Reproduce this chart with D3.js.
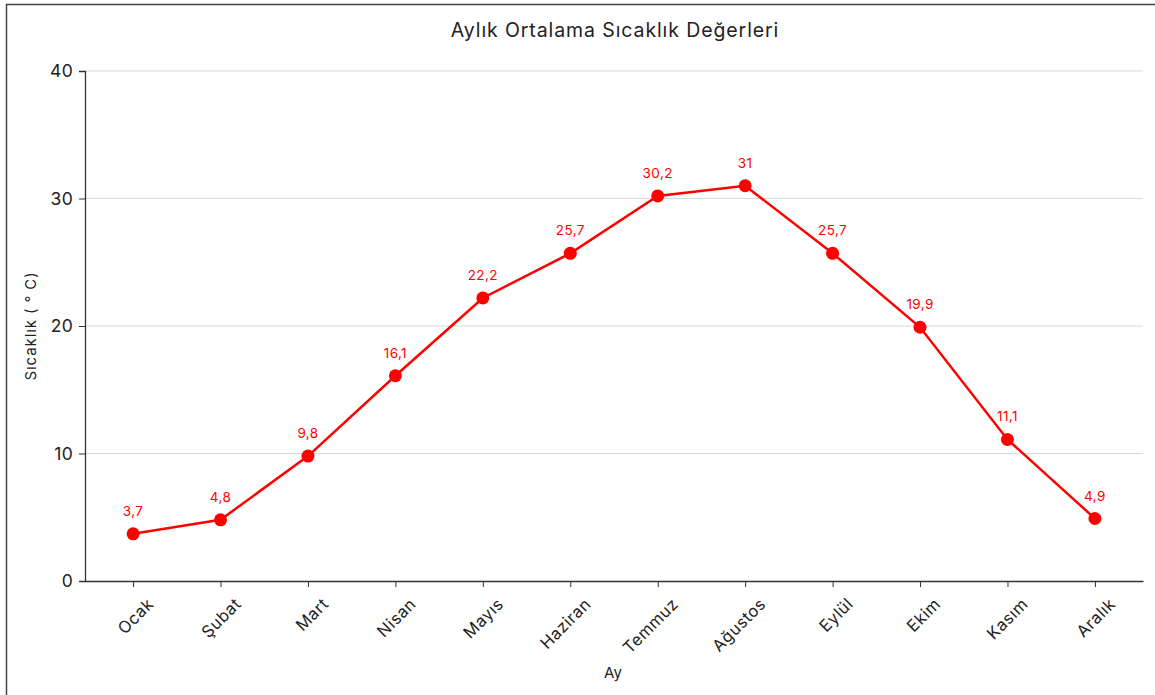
<!DOCTYPE html>
<html>
<head>
<meta charset="utf-8">
<script src="https://cdn.jsdelivr.net/npm/d3@7"></script>
<style>
  html, body { margin: 0; padding: 0; background: #fff; }
  svg { display: block; }
  svg text { font-family: Inter, "Open Sans", sans-serif; }
</style>
</head>
<body>
<svg id="chart" width="1155" height="695"></svg>
<script>
// Aylık ortalama sıcaklık çizgi grafiği
const months = ["Ocak", "Şubat", "Mart", "Nisan", "Mayıs", "Haziran",
  "Temmuz", "Ağustos", "Eylül", "Ekim", "Kasım", "Aralık"];
const temps = [3.7, 4.8, 9.8, 16.1, 22.2, 25.7, 30.2, 31, 25.7, 19.9, 11.1, 4.9];
const yTicks = [0, 10, 20, 30, 40];

const W = 1155, H = 695;
const margin = { left: 85, right: 12, top: 71, bottom: 114 };
const red = "#ff0000";

const svg = d3.select("#chart");
const fmt = (v) => String(v).replace(".", ",");

// outer frame
svg.append("rect")
  .attr("x", 6.5).attr("y", 4.5)
  .attr("width", W + 20).attr("height", H + 20)
  .attr("fill", "none").attr("stroke", "#444").attr("stroke-width", 1.5);

const x = d3.scalePoint()
  .domain(months)
  .range([margin.left, W - margin.right])
  .padding(0.55);

const y = d3.scaleLinear()
  .domain([0, 40])
  .range([H - margin.bottom, margin.top]);

// gridlines
svg.append("g")
  .selectAll("line")
  .data(yTicks.filter((t) => t > 0))
  .join("line")
  .attr("x1", margin.left).attr("x2", W - margin.right)
  .attr("y1", (d) => y(d)).attr("y2", (d) => y(d))
  .attr("stroke", "#d9d9d9").attr("stroke-width", 1);

// y axis
const gy = svg.append("g")
  .attr("transform", `translate(${margin.left},0)`)
  .call(d3.axisLeft(y).tickValues(yTicks).tickSize(6).tickPadding(6));
gy.select(".domain").attr("stroke", "#333").attr("stroke-width", 1.3);
gy.selectAll(".tick line").attr("stroke", "#333");
gy.selectAll(".tick text")
  .attr("font-size", 17.5).attr("fill", "#222").attr("letter-spacing", 0.3);

// x axis
const gx = svg.append("g")
  .attr("transform", `translate(0,${H - margin.bottom})`)
  .call(d3.axisBottom(x).tickSize(6).tickPadding(4).tickSizeOuter(0));
gx.select(".domain").attr("stroke", "#333").attr("stroke-width", 1.3);
gx.selectAll(".tick line").attr("stroke", "#333");
gx.selectAll(".tick text")
  .attr("font-size", 16.5).attr("fill", "#222")
  .attr("letter-spacing", 0.5)
  .attr("text-anchor", "end")
  .attr("dy", "0.35em")
  .attr("transform", "translate(10,13) rotate(-45)");

// axis titles
svg.append("text")
  .attr("x", (margin.left + W - margin.right) / 2 - 1)
  .attr("y", 678)
  .attr("text-anchor", "middle")
  .attr("font-size", 15).attr("fill", "#222")
  .text("Ay");

svg.append("text")
  .attr("transform", `translate(36,${y(20)}) rotate(-90)`)
  .attr("text-anchor", "middle")
  .attr("font-size", 15).attr("fill", "#222")
  .attr("letter-spacing", 0.9)
  .text("Sıcaklık ( ° C)");

// title
svg.append("text")
  .attr("x", 615).attr("y", 37)
  .attr("text-anchor", "middle")
  .attr("font-size", 19.5).attr("fill", "#222")
  .attr("letter-spacing", 0.9)
  .text("Aylık Ortalama Sıcaklık Değerleri");

// line and points
const pts = months.map((m, i) => ({ m, v: temps[i] }));

svg.append("path")
  .datum(pts)
  .attr("fill", "none")
  .attr("stroke", red)
  .attr("stroke-width", 2.5)
  .attr("d", d3.line().x((d) => x(d.m)).y((d) => y(d.v)));

svg.append("g")
  .selectAll("circle")
  .data(pts)
  .join("circle")
  .attr("cx", (d) => x(d.m))
  .attr("cy", (d) => y(d.v))
  .attr("r", 6.5)
  .attr("fill", red);

svg.append("g")
  .selectAll("text")
  .data(pts)
  .join("text")
  .attr("x", (d) => x(d.m))
  .attr("y", (d) => y(d.v) - 18)
  .attr("text-anchor", "middle")
  .attr("font-size", 13.5)
  .attr("letter-spacing", 0.4)
  .attr("fill", red)
  .text((d) => fmt(d.v));
</script>
</body>
</html>
